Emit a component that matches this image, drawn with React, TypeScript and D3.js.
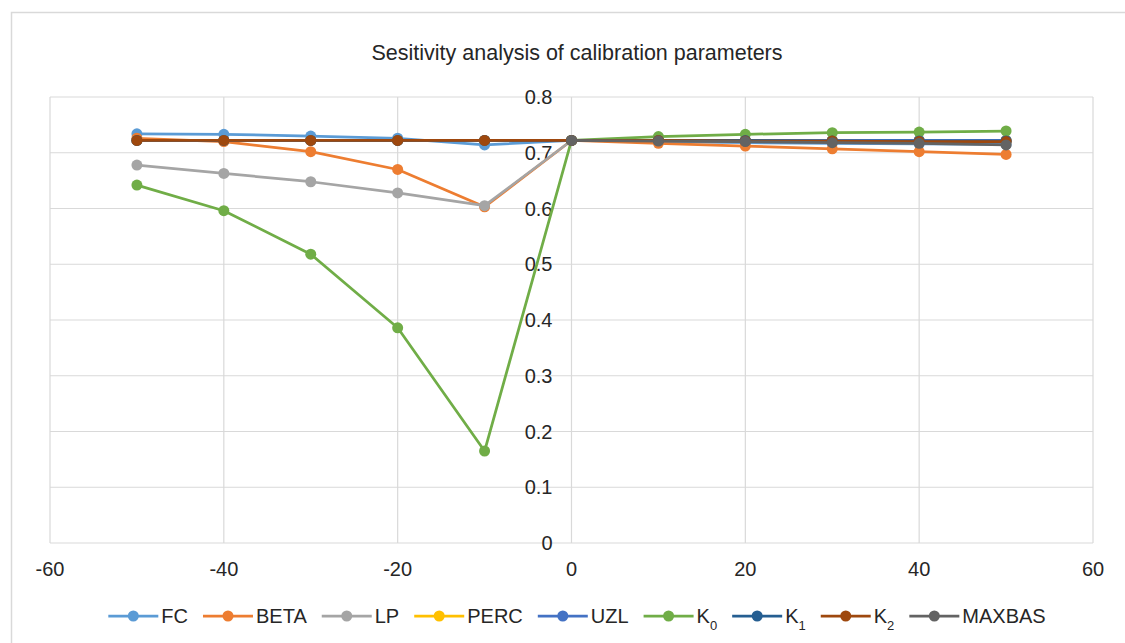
import React, {useEffect, useRef} from "react";
import * as d3 from 'd3';

const WIDTH = 1125;
const HEIGHT = 643;
const FONT = '"Liberation Sans", Arial, sans-serif';
const TEXT_COLOR = '#262626';
const GRID_COLOR = '#D9D9D9';

// change of parameter value, in percent
const changes = [-50, -40, -30, -20, -10, 0, 10, 20, 30, 40, 50];
const xTicks = [-60, -40, -20, 0, 20, 40, 60];
const yTicks = [0, 0.1, 0.2, 0.3, 0.4, 0.5, 0.6, 0.7, 0.8];
const yTickLabels = ['0', '0.1', '0.2', '0.3', '0.4', '0.5', '0.6', '0.7', '0.8'];

const seriesNames = ['FC', 'BETA', 'LP', 'PERC', 'UZL', 'K0', 'K1', 'K2', 'MAXBAS'];
const seriesColors = ['#5B9BD5', '#ED7D31', '#A5A5A5', '#FFC000', '#4472C4', '#70AD47', '#255E91', '#9E480E', '#636363'];

const fcValues = [0.734, 0.733, 0.730, 0.726, 0.714, 0.722, 0.720, 0.718, 0.717, 0.716, 0.715];
const betaValues = [0.726, 0.720, 0.702, 0.670, 0.603, 0.722, 0.717, 0.712, 0.707, 0.702, 0.697];
const lpValues = [0.678, 0.663, 0.648, 0.628, 0.605, 0.722, 0.722, 0.722, 0.722, 0.722, 0.722];
const percValues = [0.722, 0.722, 0.722, 0.722, 0.722, 0.722, 0.722, 0.722, 0.722, 0.722, 0.722];
const uzlValues = [0.722, 0.722, 0.722, 0.722, 0.722, 0.722, 0.722, 0.722, 0.722, 0.722, 0.722];
const k0Values = [0.642, 0.596, 0.518, 0.386, 0.165, 0.722, 0.729, 0.733, 0.736, 0.737, 0.739];
const k1Values = [0.722, 0.722, 0.722, 0.722, 0.722, 0.722, 0.722, 0.722, 0.721, 0.721, 0.721];
const k2Values = [0.722, 0.722, 0.722, 0.722, 0.722, 0.722, 0.722, 0.721, 0.721, 0.720, 0.720];
// MAXBAS only tested for positive changes
const maxbasValues = [null, null, null, null, null, 0.722, 0.721, 0.720, 0.718, 0.717, 0.714];

const allValues = [fcValues, betaValues, lpValues, percValues, uzlValues, k0Values, k1Values, k2Values, maxbasValues];

const TITLE = 'Sesitivity analysis of calibration parameters';

const LEFT = 50;
const RIGHT = 1093;
const TOP = 97;
const BOTTOM = 543;
const LINE_W = 2.75;
const MARKER_R = 5.5;

const App: React.FC = () => {
    const svgRef = useRef(null);

    useEffect(() => {
        document.body.style.margin = '0';
        const svg = d3.select(svgRef.current);
        svg.selectAll('*').remove();

        const xScale = d3.scaleLinear().domain([-60, 60]).range([LEFT, RIGHT]);
        const yScale = d3.scaleLinear().domain([0, 0.8]).range([BOTTOM, TOP]);

        svg.append('rect')
            .attr('x', 11.5).attr('y', 12.5)
            .attr('width', 1300).attr('height', 800)
            .attr('fill', 'white')
            .attr('stroke', GRID_COLOR)
            .attr('stroke-width', 1.5);

        svg.append('text')
            .attr('x', 577).attr('y', 60)
            .attr('text-anchor', 'middle')
            .style('font-family', FONT)
            .style('font-size', '21.5px')
            .attr('fill', TEXT_COLOR)
            .text(TITLE);

        const gridG = svg.append('g');
        gridG.selectAll('line.h')
            .data(yTicks)
            .enter()
            .append('line')
            .attr('x1', LEFT).attr('x2', RIGHT)
            .attr('y1', d => yScale(d)).attr('y2', d => yScale(d))
            .attr('stroke', GRID_COLOR).attr('stroke-width', 1.2);
        gridG.selectAll('line.v')
            .data(xTicks)
            .enter()
            .append('line')
            .attr('x1', d => xScale(d)).attr('x2', d => xScale(d))
            .attr('y1', TOP).attr('y2', BOTTOM)
            .attr('stroke', GRID_COLOR).attr('stroke-width', 1.2);

        // y labels sit beside the axis at x = 0
        svg.append('g').selectAll('text')
            .data(yTicks)
            .enter()
            .append('text')
            .attr('x', xScale(0) - 19)
            .attr('y', d => yScale(d))
            .attr('dy', '0.35em')
            .attr('text-anchor', 'end')
            .style('font-family', FONT)
            .style('font-size', '20px')
            .attr('fill', TEXT_COLOR)
            .text((d, i) => yTickLabels[i]);

        svg.append('g').selectAll('text')
            .data(xTicks)
            .enter()
            .append('text')
            .attr('x', d => xScale(d))
            .attr('y', 569)
            .attr('dy', '0.35em')
            .attr('text-anchor', 'middle')
            .style('font-family', FONT)
            .style('font-size', '20px')
            .attr('fill', TEXT_COLOR)
            .text(d => String(d));

        const line = d3.line<[number, number | null]>()
            .defined(d => d[1] !== null)
            .x(d => xScale(d[0]))
            .y(d => yScale(d[1] as number));

        allValues.forEach((vals, i) => {
            const pts: [number, number | null][] = changes.map((c, j) => [c, vals[j]]);
            const g = svg.append('g');
            g.append('path')
                .datum(pts)
                .attr('d', line)
                .attr('fill', 'none')
                .attr('stroke', seriesColors[i])
                .attr('stroke-width', LINE_W)
                .attr('stroke-linejoin', 'round');
            g.selectAll('circle')
                .data(pts.filter(d => d[1] !== null))
                .enter()
                .append('circle')
                .attr('cx', d => xScale(d[0]))
                .attr('cy', d => yScale(d[1] as number))
                .attr('r', MARKER_R)
                .attr('fill', seriesColors[i]);
        });

        // legend, laid out left to right and centred
        const legendY = 616;
        const legendG = svg.append('g');
        const items = seriesNames.map((name, i) => {
            const itemG = legendG.append('g');
            itemG.append('line')
                .attr('x1', 0).attr('x2', 50)
                .attr('y1', legendY).attr('y2', legendY)
                .attr('stroke', seriesColors[i])
                .attr('stroke-width', LINE_W);
            itemG.append('circle')
                .attr('cx', 25).attr('cy', legendY)
                .attr('r', MARKER_R)
                .attr('fill', seriesColors[i]);
            const txt = itemG.append('text')
                .attr('x', 53)
                .attr('y', legendY)
                .attr('dy', '0.35em')
                .style('font-family', FONT)
                .style('font-size', '20px')
                .attr('fill', TEXT_COLOR);
            const m = name.match(/^K(\d)$/);
            if (m) {
                txt.append('tspan').text('K');
                txt.append('tspan')
                    .attr('dy', 7)
                    .style('font-size', '13px')
                    .text(m[1]);
            } else {
                txt.text(name);
            }
            const w = 53 + (txt.node() as SVGTextElement).getComputedTextLength();
            return {itemG, w};
        });
        const gap = 15;
        const total = d3.sum(items, d => d.w) + gap * (items.length - 1);
        let x = 577 - total / 2;
        items.forEach(it => {
            it.itemG.attr('transform', 'translate(' + x + ',0)');
            x += it.w + gap;
        });
    }, []);

    return (
        <svg ref={svgRef} width={WIDTH} height={HEIGHT} style={{display: 'block'}}/>
    );
};

export default App;
